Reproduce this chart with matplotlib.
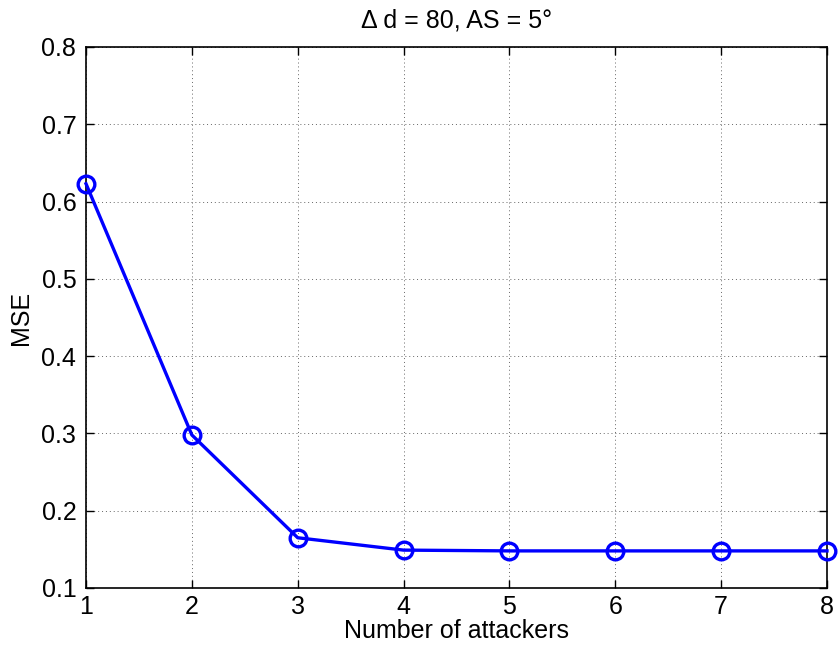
import matplotlib
matplotlib.use("Agg")
import matplotlib.pyplot as plt

attackers = [1, 2, 3, 4, 5, 6, 7, 8]
mse = [0.623, 0.298, 0.165, 0.149, 0.148, 0.148, 0.148, 0.148]
yticks = [0.1, 0.2, 0.3, 0.4, 0.5, 0.6, 0.7, 0.8]

plt.rcParams['font.family'] = ['Liberation Sans', 'DejaVu Sans']

fig = plt.figure(figsize=(8.4, 6.5), dpi=100)
ax = fig.add_axes([0.1024, 0.0954, 0.8821, 0.8323])
ax.plot(attackers, mse, color='#0000ff', linewidth=2.4, marker='o', markersize=12,
        markerfacecolor='none', markeredgewidth=2.4, markeredgecolor='#0000ff', clip_on=False, zorder=3)
ax.set_xlim(1, 8)
ax.set_ylim(0.1, 0.8)
ax.set_xticks(attackers)
ax.set_yticks(yticks)
ax.set_yticklabels([f"{v:.1f}" for v in yticks])
ax.grid(True, linestyle=(0, (1, 3)), color='#666666', linewidth=0.7)
ax.tick_params(direction='in', top=True, right=True, labelsize=18, length=6, width=1)
ax.tick_params(axis='x', pad=5)
ax.tick_params(axis='y', pad=7)
for s in ax.spines.values():
    s.set_linewidth(1.2)
ax.set_xlabel('Number of attackers', fontsize=18, labelpad=0)
ax.set_ylabel('MSE', fontsize=18, labelpad=6)
ax.set_title('Δ d = 80, AS = 5°', fontsize=18, pad=14)
fig.savefig('out.png', dpi=100)
